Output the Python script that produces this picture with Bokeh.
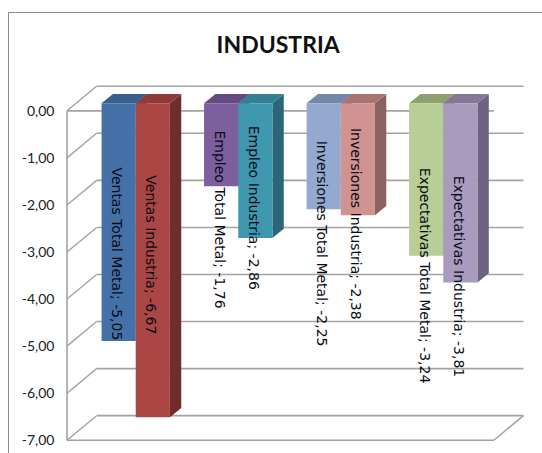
from bokeh.plotting import figure
from bokeh.models import FixedTicker, Range1d
from bokeh.core.properties import value
from bokeh.embed import file_html
from bokeh.resources import INLINE

title_text = "INDUSTRIA"
groups = ["Ventas", "Empleo", "Inversiones", "Expectativas"]
series_names = ["Total Metal", "Industria"]
total_metal = [-5.05, -1.76, -2.25, -3.24]
industria = [-6.67, -2.86, -2.38, -3.81]
tick_values = [0, -1, -2, -3, -4, -5, -6, -7]
tick_labels = ["0,00", "-1,00", "-2,00", "-3,00", "-4,00", "-5,00", "-6,00", "-7,00"]
front_colors = ["#4472a8", "#aa4643", "#7d5fa0", "#3f98b0", "#93a9cf", "#d09391", "#b9cd96", "#a99bbd"]
top_colors = ["#385f8e", "#8f3a38", "#644a80", "#357f93", "#7487a8", "#a87473", "#8e9f70", "#847899"]
side_colors = ["#2e4f76", "#6f2e2c", "#4f3a66", "#2a6678", "#66768f", "#8b6261", "#76855c", "#6e6480"]
# label centre along the bar, measured in axis units from the zero line
label_centres = [-3.04, -3.06, -2.31, -2.06, -2.82, -2.40, -3.50, -3.52]

UX = 102.2  # px per group slot
UY = 46.9   # px per axis unit
BAR = 1 / 3
DEPTH_X, DEPTH_Y = 11.3 / UX, 9.2 / UY
RISE = 7.5 / UY
WALL_DX, WALL_DY = 29.5 / UX, 24.5 / UY
FRONT_L, FRONT_R = (67.5 - 136) / UX, (493 - 136) / UX

p = figure(width=534, height=441, output_backend="svg", toolbar_location=None,
           x_range=Range1d((62 - 136) / UX, (542.5 - 136) / UX),
           y_range=Range1d((110.5 - 453) / UY, (110.5 - 13.5) / UY),
           min_border_left=52, min_border_right=0, min_border_bottom=0, min_border_top=0,
           background_fill_color="white", border_fill_color="white")
p.styles = {"border-top": "1.5px solid #8c8c8c", "border-left": "1.5px solid #8c8c8c",
            "box-sizing": "border-box", "position": "absolute", "left": "8px", "top": "12px"}
p.outline_line_color = None
p.grid.visible = False
p.xaxis.visible = False

p.text([(278 - 136) / UX], [(110.5 - 44) / UY], text=[title_text], text_align="center",
       text_baseline="middle", text_font=value("Lato"), text_font_size="23px",
       text_font_style="bold", text_color="#111111")

ax = p.yaxis[0]
ax.ticker = FixedTicker(ticks=tick_values)
ax.major_label_overrides = dict(zip(tick_values, tick_labels))
ax.axis_line_color = None
ax.major_tick_line_color = None
ax.minor_tick_line_color = None
ax.major_tick_out = 0
ax.major_label_standoff = 7
ax.major_label_text_font = "Lato"
ax.major_label_text_font_size = "14px"
ax.major_label_text_color = "#222222"

wall = "#a3a3a3"
back_x = [[FRONT_L + WALL_DX, FRONT_R + WALL_DX] for _ in tick_values]
back_y = [[v + WALL_DY, v + WALL_DY] for v in tick_values]
p.multi_line(back_x, back_y, line_color=wall, line_width=1.6)
p.multi_line([[FRONT_L, FRONT_L + WALL_DX] for _ in tick_values],
             [[v, v + WALL_DY] for v in tick_values], line_color=wall, line_width=1.4)
lo, hi = min(tick_values), max(tick_values)
p.multi_line([[FRONT_L, FRONT_L], [FRONT_L, FRONT_R], [FRONT_L, FRONT_R], [FRONT_R, FRONT_R + WALL_DX]],
             [[lo, hi], [lo, lo], [hi, hi], [lo, lo + WALL_DY]], line_color=wall, line_width=1.6)

ordered = []
for i, g in enumerate(groups):
    ordered.append((i - BAR, g, series_names[0], total_metal[i]))
    ordered.append((i, g, series_names[1], industria[i]))

for k, (left, g, name, v) in enumerate(ordered):
    right = left + BAR
    top = RISE
    bottom = v + RISE
    p.patch([right, right + DEPTH_X, right + DEPTH_X, right],
            [top, top + DEPTH_Y, bottom + DEPTH_Y, bottom], fill_color=side_colors[k], line_color=None)
    p.patch([left, left + DEPTH_X, right + DEPTH_X, right],
            [top, top + DEPTH_Y, top + DEPTH_Y, top], fill_color=top_colors[k], line_color=None)
    p.quad(left=[left], right=[right], top=[top], bottom=[bottom], fill_color=front_colors[k], line_color=None)

for k, (left, g, name, v) in enumerate(ordered):
    text = f"{g} {name}; {v:.2f}".replace(".", ",")
    p.text([left + BAR / 2 - 0.015], [label_centres[k]], text=[text], angle=-1.5708,
           text_align="center", text_baseline="middle", text_font=value("DejaVu Sans"),
           text_font_size="14px", text_color="#0a0a14")

open("out.html", "w").write(file_html(p, INLINE))
